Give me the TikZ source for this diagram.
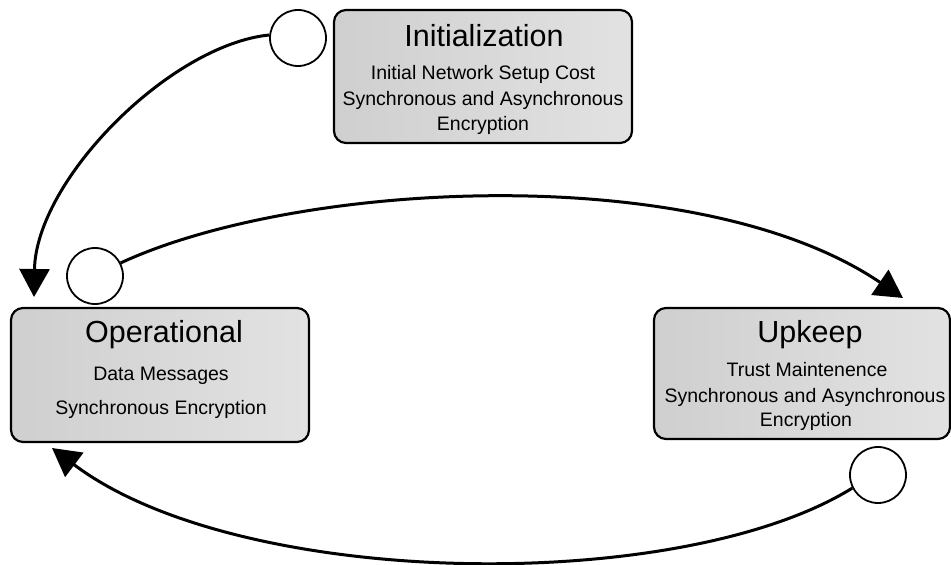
\documentclass[tikz,border=0pt]{standalone}
\usepackage{fontspec}
\setmainfont{Liberation Sans}
\usetikzlibrary{arrows.meta}
\definecolor{boxdark}{HTML}{CFCFCF}
\definecolor{boxlight}{HTML}{E2E2E2}
\tikzset{
    phasebox/.style={draw, line width=2.2pt, rounded corners=12pt,
        left color=boxdark, right color=boxlight, inner sep=0pt},
    phasetitle/.style={anchor=base, inner sep=0pt, font=\fontsize{30.5}{31}\selectfont},
    phaseline/.style={anchor=base, inner sep=0pt, font=\fontsize{19.5}{20}\selectfont},
    port/.style={circle, draw, line width=1.8pt, fill=white, minimum size=56pt, inner sep=0pt},
    flow/.style={line width=3pt, -{Triangle[width=30pt,length=28pt]}}
}
\begin{document}
\begin{tikzpicture}[x=1pt, y=1pt]
    \useasboundingbox (0, 0) rectangle (951, 565);

    % Phasen
    \node[phasebox, minimum width=298pt, minimum height=133pt] (init) at (483, 488.5) {};
    \node[phasebox, minimum width=298pt, minimum height=134pt] (oper) at (160, 190) {};
    \node[phasebox, minimum width=296pt, minimum height=131pt] (upkp) at (802, 191.5) {};

    % Texte
    \node[phasetitle] (initT) at (484, 518) {Initialization};
    \node[phaseline] (initA) at (483, 485) {Initial Network Setup Cost};
    \node[phaseline] (initB) at (483, 459) {Synchronous and Asynchronous};
    \node[phaseline] (initC) at (483, 434) {Encryption};

    \node[phasetitle] (operT) at (164, 222) {Operational};
    \node[phaseline] (operA) at (161, 184) {Data Messages};
    \node[phaseline] (operB) at (161, 150) {Synchronous Encryption};

    \node[phasetitle] (upkpT) at (810, 222) {Upkeep};
    \node[phaseline] (upkpA) at (807, 188) {Trust Maintenence};
    \node[phaseline] (upkpB) at (805, 162) {Synchronous and Asynchronous};
    \node[phaseline] (upkpC) at (806, 138) {Encryption};

    % Ausgaenge
    \node[port] (initP) at (298, 527) {};
    \node[port] (operP) at (95, 289) {};
    \node[port] (upkpP) at (878, 90) {};

    % Pfeilspitzen
    \coordinate (toOper) at (34, 268);
    \coordinate (toUpkp) at (903, 267);
    \coordinate (backOper) at (52, 117);

    % Uebergaenge
    \draw[flow] (initP.174) .. controls (170, 520) and (36, 385) .. (toOper);
    \draw[flow] (operP.27) .. controls (300, 385) and (700, 405) .. (toUpkp);
    \draw[flow] (upkpP.207) .. controls (680, -30) and (240, -25) .. (backOper);

\end{tikzpicture}
\end{document}
